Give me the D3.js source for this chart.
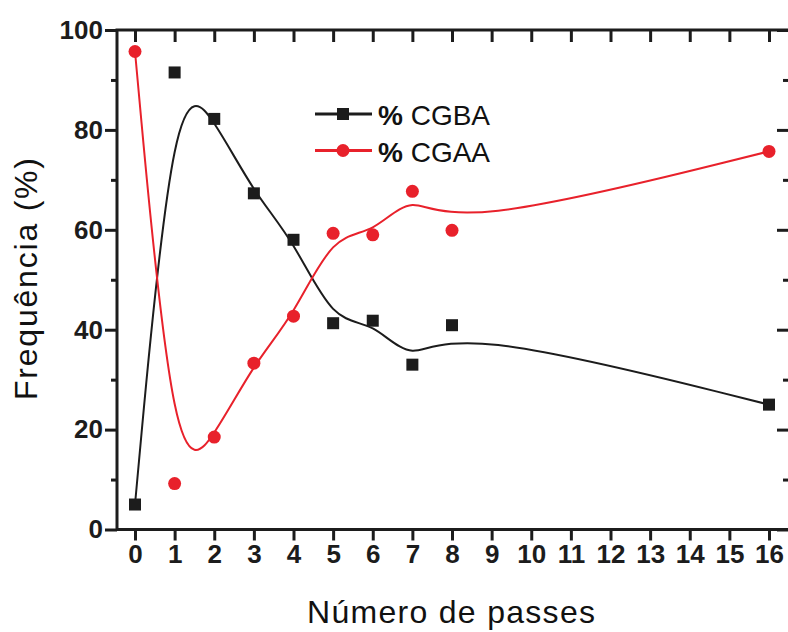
<!DOCTYPE html>
<html>
<head>
<meta charset="utf-8">
<script src="https://cdn.jsdelivr.net/npm/d3@7"></script>
<style>
  html, body { margin: 0; padding: 0; background: #fff; }
  svg { display: block; }
  text { font-family: "Liberation Sans", Arial, sans-serif; }
</style>
</head>
<body>
<svg id="chart" width="788" height="632"></svg>
<script>
// Number of passes on the x axis
const passes = [0, 1, 2, 3, 4, 5, 6, 7, 8, 16];
// Frequency (%) of each grain type
const cgba = [5.0, 91.5, 82.2, 67.3, 58.0, 41.3, 41.8, 33.0, 40.9, 25.0];
const cgaa = [95.7, 9.2, 18.5, 33.3, 42.7, 59.3, 59.0, 67.7, 59.9, 75.7];
const seriesNames = ["% CGBA", "% CGAA"];
const xTicks = d3.range(0, 17);
const yMajor = [0, 20, 40, 60, 80, 100];
const yMinor = [10, 30, 50, 70, 90];
const xTitle = "Número de passes";
const yTitle = "Frequência (%)";

const black = "#1c1c1c";
const red = "#e8212b";

const svg = d3.select("#chart");
const x = d3.scaleLinear().domain([0, 16]).range([135, 769]);
const y = d3.scaleLinear().domain([0, 100]).range([529.5, 30]);

const frameL = 117, frameR = 790, frameT = 30, frameB = 529.5;

function styleAxis(g) {
  g.select(".domain").remove();
  g.selectAll(".tick line").attr("stroke", black).attr("stroke-width", 3);
  g.selectAll(".tick text")
    .attr("fill", black)
    .style("font-family", '"Liberation Sans", Arial, sans-serif')
    .style("font-weight", "bold")
    .style("font-size", "26px");
}

// Bottom axis: labelled ticks for every pass count
svg.append("g")
  .attr("transform", `translate(0,${frameB})`)
  .call(d3.axisBottom(x).tickValues(xTicks).tickSize(11).tickPadding(4).tickFormat(d3.format("d")))
  .call(styleAxis);

// Top axis: inward ticks only
svg.append("g")
  .attr("transform", `translate(0,${frameT})`)
  .call(d3.axisTop(x).tickValues(xTicks).tickSize(-12).tickFormat(""))
  .call(styleAxis);

// Left axis: major ticks with labels, minor ticks without
svg.append("g")
  .attr("transform", `translate(${frameL},0)`)
  .call(d3.axisLeft(y).tickValues(yMajor).tickSize(12).tickPadding(2).tickFormat(d3.format("d")))
  .call(styleAxis);
svg.append("g")
  .attr("transform", `translate(${frameL},0)`)
  .call(d3.axisLeft(y).tickValues(yMinor).tickSize(6).tickFormat(""))
  .call(styleAxis);

// Right axis: inward major and minor ticks
svg.append("g")
  .attr("transform", `translate(${frameR},0)`)
  .call(d3.axisRight(y).tickValues(yMajor).tickSize(-13).tickFormat(""))
  .call(styleAxis);
svg.append("g")
  .attr("transform", `translate(${frameR},0)`)
  .call(d3.axisRight(y).tickValues(yMinor).tickSize(-7).tickFormat(""))
  .call(styleAxis);

// Plot frame
svg.append("rect")
  .attr("x", frameL).attr("y", frameT)
  .attr("width", frameR - frameL).attr("height", frameB - frameT)
  .attr("fill", "none").attr("stroke", black).attr("stroke-width", 3);

// Smoothed B-spline curves through the measured points
const line = d3.line().x(d => x(d[0])).y(d => y(d[1])).curve(d3.curveBasis);
const dataB = passes.map((p, i) => [p, cgba[i]]);
const dataA = passes.map((p, i) => [p, cgaa[i]]);

svg.append("path").datum(dataB).attr("d", line)
  .attr("fill", "none").attr("stroke", black).attr("stroke-width", 2);
svg.append("path").datum(dataA).attr("d", line)
  .attr("fill", "none").attr("stroke", red).attr("stroke-width", 2);

// Markers
const sq = 12;
svg.append("g").selectAll("rect").data(dataB).join("rect")
  .attr("x", d => x(d[0]) - sq / 2).attr("y", d => y(d[1]) - sq / 2)
  .attr("width", sq).attr("height", sq).attr("fill", black);
svg.append("g").selectAll("circle").data(dataA).join("circle")
  .attr("cx", d => x(d[0])).attr("cy", d => y(d[1])).attr("r", 6.5)
  .attr("fill", red);

// Legend
const legend = svg.append("g");
const legendItems = [
  { name: seriesNames[0], color: black, shape: "square", cy: 114 },
  { name: seriesNames[1], color: red, shape: "circle", cy: 150.5 }
];
legendItems.forEach(it => {
  legend.append("line").attr("x1", 315).attr("x2", 372)
    .attr("y1", it.cy).attr("y2", it.cy)
    .attr("stroke", it.color).attr("stroke-width", 3);
  if (it.shape === "square") {
    legend.append("rect").attr("x", 343 - 6).attr("y", it.cy - 6)
      .attr("width", 12).attr("height", 12).attr("fill", it.color);
  } else {
    legend.append("circle").attr("cx", 343).attr("cy", it.cy).attr("r", 6.5)
      .attr("fill", it.color);
  }
  const t = legend.append("text").attr("x", 378).attr("y", it.cy + 11)
    .attr("fill", "#111").style("font-size", "28px");
  const parts = it.name.split(" ");
  t.append("tspan").style("font-weight", "bold").text(parts[0]);
  t.append("tspan").text(" " + parts.slice(1).join(" "));
});

// Axis titles
svg.append("text")
  .attr("x", 307).attr("y", 623)
  .attr("textLength", 288).attr("lengthAdjust", "spacing")
  .attr("fill", "#111").style("font-size", "32px")
  .text(xTitle);
svg.append("text")
  .attr("transform", "translate(37,400) rotate(-90)")
  .attr("textLength", 242).attr("lengthAdjust", "spacing")
  .attr("fill", "#111").style("font-size", "32px")
  .text(yTitle);
</script>
</body>
</html>
